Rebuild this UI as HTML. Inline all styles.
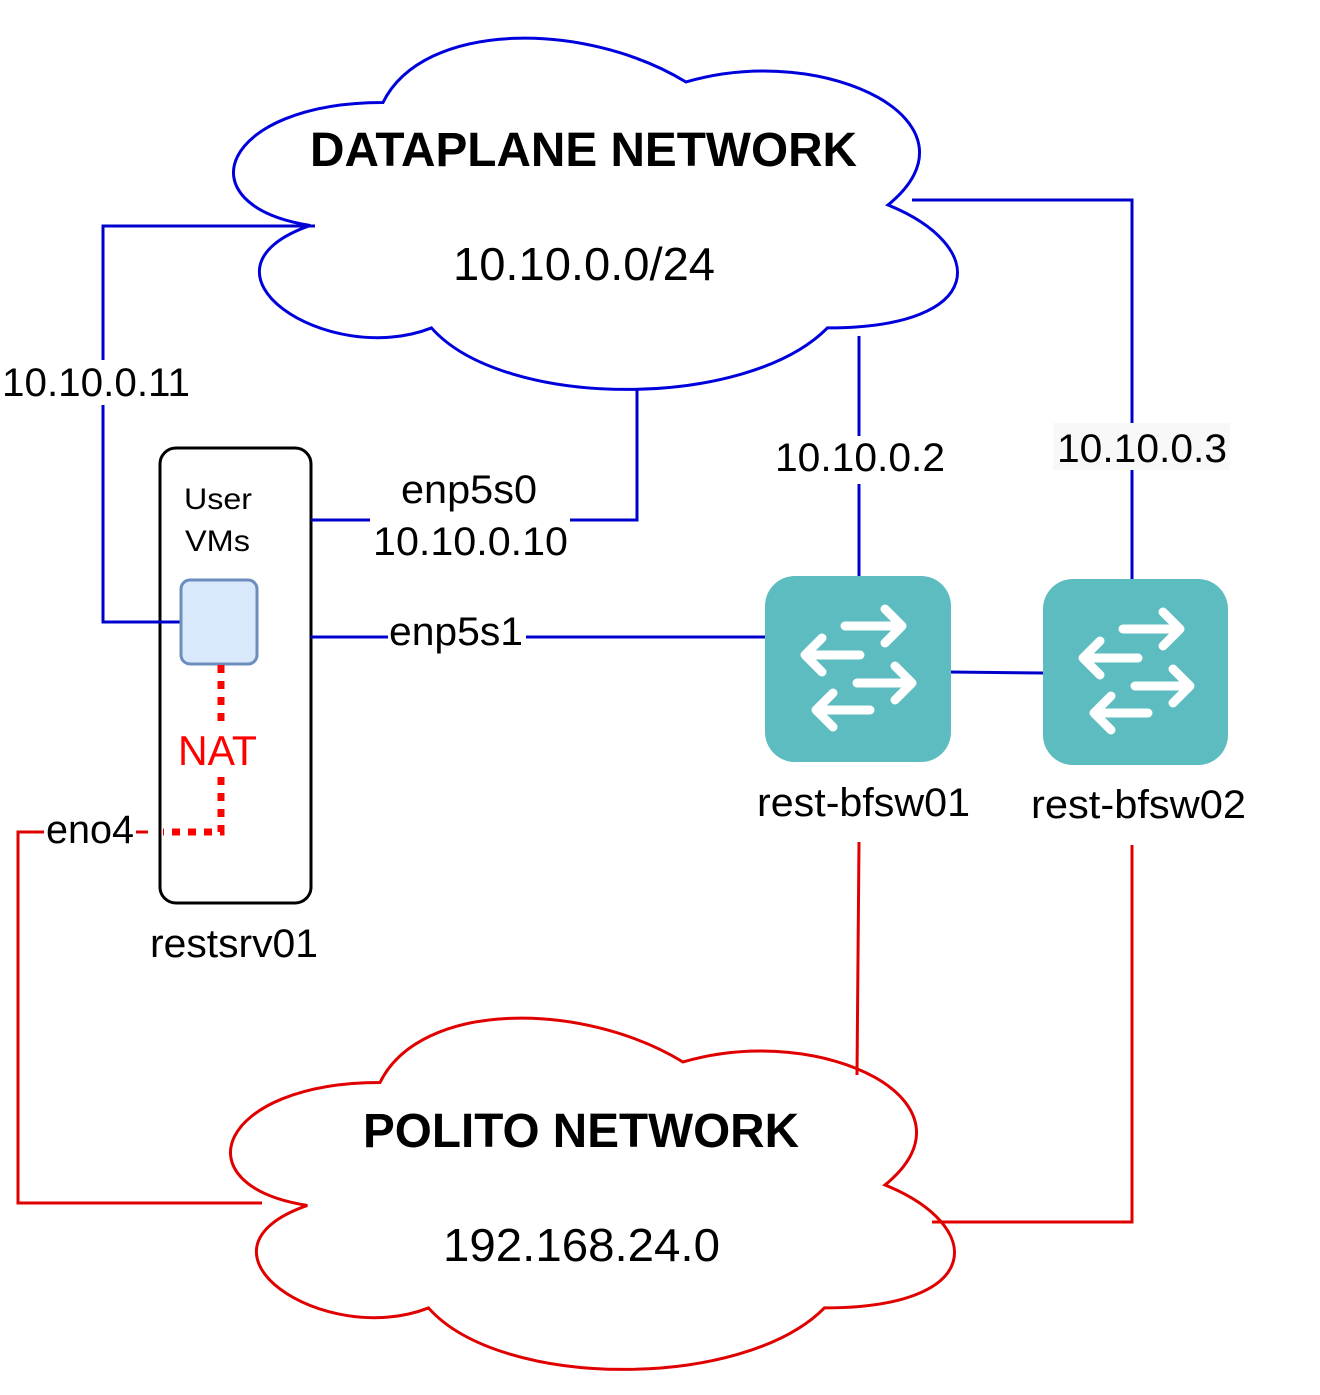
<!DOCTYPE html>
<html><head><meta charset="utf-8"><style>html,body{margin:0;padding:0;background:#fff}svg{display:block}</style></head>
<body>
<svg width="1320" height="1395" viewBox="0 0 1320 1395" xmlns="http://www.w3.org/2000/svg" font-family="'Liberation Sans', Arial, sans-serif">
<defs>
<g id="arrows" stroke="#fff" stroke-width="9" stroke-linecap="round" stroke-linejoin="round" fill="none">
<path d="M80 50 H137 M120 33 L137 50 L120 67"/>
<path d="M95 79 H40 M57 62 L40 79 L57 96"/>
<path d="M92 107 H147 M130 90 L147 107 L130 124"/>
<path d="M105 134 H51 M68 117 L51 134 L68 151"/>
</g>
</defs>
<!-- top cloud -->
<g transform="translate(181,0) scale(1,0.976)">
<path d="M202,105 C40.4,105 0,210 129.3,231 C0,277.2 145.4,378 250.5,336 C323.2,420 565.6,420 646.4,336 C808,336 808,252 707,210 C808,126 646.4,42 505,84 C404,21 242.4,21 202,105 Z" fill="none" stroke="#0000dd" stroke-width="3" vector-effect="non-scaling-stroke"/>
</g>
<!-- bottom cloud -->
<g transform="translate(178,980) scale(1,0.976)">
<path d="M202,105 C40.4,105 0,210 129.3,231 C0,277.2 145.4,378 250.5,336 C323.2,420 565.6,420 646.4,336 C808,336 808,252 707,210 C808,126 646.4,42 505,84 C404,21 242.4,21 202,105 Z" fill="none" stroke="#e00000" stroke-width="3" vector-effect="non-scaling-stroke"/>
</g>
<!-- server -->
<rect x="160" y="448" width="151" height="455" rx="16" fill="#fff" stroke="#000" stroke-width="3"/>
<!-- blue lines -->
<g stroke="#0000cc" stroke-width="3" fill="none">
<path d="M315,226 H103 V622 H181"/>
<path d="M311,520 H637 V388"/>
<path d="M311,637 H765"/>
<path d="M859,576 V336"/>
<path d="M1132,579 V200 H912"/>
<path d="M950,672 L1043,673"/>
</g>
<!-- red lines -->
<g stroke="#e00000" stroke-width="3" fill="none">
<path d="M859,842 L857,1075"/>
<path d="M1132,845 V1222 H932"/>
<path d="M148,832 H18 V1203 H262"/>
</g>
<rect x="181" y="580" width="76" height="84" rx="9" fill="#dae8fc" stroke="#6c8ebf" stroke-width="3"/>
<path d="M221,665 V832 H163" stroke="#ff0000" stroke-width="7" fill="none" stroke-dasharray="8 8"/>
<!-- label backgrounds -->
<rect x="0" y="360" width="195" height="45" fill="#fff"/>
<rect x="370" y="470" width="200" height="95" fill="#fff"/>
<rect x="388" y="615" width="138" height="40" fill="#fff"/>
<rect x="772" y="436" width="176" height="48" fill="#fff"/>
<rect x="1053" y="423" width="177" height="47" fill="#f8f8f8"/>
<rect x="175" y="725" width="86" height="50" fill="#fff"/>
<rect x="44" y="812" width="94" height="40" fill="#fff"/>
<!-- switches -->
<rect x="765" y="576" width="186" height="186" rx="30" fill="#5dbcbf"/>
<use href="#arrows" x="765" y="576"/>
<rect x="1043" y="579" width="185" height="186" rx="30" fill="#5dbcbf"/>
<use href="#arrows" x="1043" y="579"/>
<!-- text -->
<g fill="#000">
<text x="310" y="166" font-size="48" font-weight="bold" textLength="547" lengthAdjust="spacingAndGlyphs">DATAPLANE NETWORK</text>
<text x="453" y="280" font-size="46" textLength="262" lengthAdjust="spacingAndGlyphs">10.10.0.0/24</text>
<text x="363" y="1147" font-size="48" font-weight="bold" textLength="436" lengthAdjust="spacingAndGlyphs">POLITO NETWORK</text>
<text x="443" y="1261" font-size="46" textLength="277" lengthAdjust="spacingAndGlyphs">192.168.24.0</text>
<text x="2" y="396" font-size="40" textLength="188" lengthAdjust="spacingAndGlyphs">10.10.0.11</text>
<text x="401" y="503" font-size="40" textLength="136" lengthAdjust="spacingAndGlyphs">enp5s0</text>
<text x="373" y="555" font-size="40" textLength="195" lengthAdjust="spacingAndGlyphs">10.10.0.10</text>
<text x="389" y="645" font-size="40" textLength="134" lengthAdjust="spacingAndGlyphs">enp5s1</text>
<text x="775" y="471" font-size="40" textLength="170" lengthAdjust="spacingAndGlyphs">10.10.0.2</text>
<text x="1057" y="462" font-size="40" textLength="170" lengthAdjust="spacingAndGlyphs">10.10.0.3</text>
<text x="757" y="816" font-size="40" textLength="213" lengthAdjust="spacingAndGlyphs">rest-bfsw01</text>
<text x="1031" y="818" font-size="40" textLength="215" lengthAdjust="spacingAndGlyphs">rest-bfsw02</text>
<text x="150" y="957" font-size="40" textLength="168" lengthAdjust="spacingAndGlyphs">restsrv01</text>
<text x="46" y="843" font-size="40" textLength="88" lengthAdjust="spacingAndGlyphs">eno4</text>
<text x="184" y="509" font-size="30" textLength="68" lengthAdjust="spacingAndGlyphs">User</text>
<text x="185" y="551" font-size="30" textLength="65" lengthAdjust="spacingAndGlyphs">VMs</text>
</g>
<text x="178" y="765" font-size="42" fill="#ff0000" textLength="79" lengthAdjust="spacingAndGlyphs">NAT</text>
<path d="M136,832 H148" stroke="#e00000" stroke-width="3"/>
</svg>
</body></html>
